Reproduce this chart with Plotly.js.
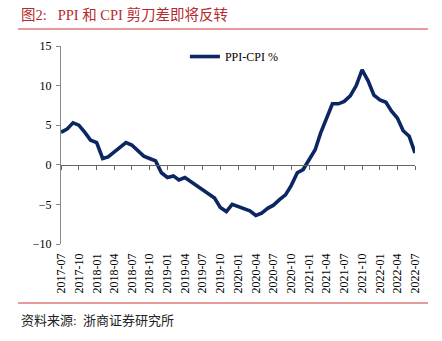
<!DOCTYPE html>
<html>
<head>
<meta charset="utf-8">
<script src="https://cdn.plot.ly/plotly-3.0.1.min.js"></script>
<style>
html,body{margin:0;padding:0;background:#fff;}
#chart{width:442px;height:341px;}
</style>
</head>
<body>
<div id="chart"></div>
<script>
const months = [
  "2017-07","2017-08","2017-09","2017-10","2017-11","2017-12",
  "2018-01","2018-02","2018-03","2018-04","2018-05","2018-06",
  "2018-07","2018-08","2018-09","2018-10","2018-11","2018-12",
  "2019-01","2019-02","2019-03","2019-04","2019-05","2019-06",
  "2019-07","2019-08","2019-09","2019-10","2019-11","2019-12",
  "2020-01","2020-02","2020-03","2020-04","2020-05","2020-06",
  "2020-07","2020-08","2020-09","2020-10","2020-11","2020-12",
  "2021-01","2021-02","2021-03","2021-04","2021-05","2021-06",
  "2021-07","2021-08","2021-09","2021-10","2021-11","2021-12",
  "2022-01","2022-02","2022-03","2022-04","2022-05","2022-06",
  "2022-07"
];
const ppiCpi = [
  4.1, 4.5, 5.3, 5.0, 4.1, 3.1,
  2.8, 0.8, 1.0, 1.6, 2.3, 2.8,
  2.5, 1.8, 1.1, 0.8, 0.5, -1.0,
  -1.6, -1.4, -1.9, -1.6, -2.1, -2.7,
  -3.1, -3.6, -4.2, -5.4, -5.9, -5.0,
  -5.3, -5.6, -5.8, -6.4, -6.1, -5.5,
  -5.1, -4.4, -3.8, -2.6, -1.0, -0.6,
  0.6, 1.9, 4.0, 5.9, 7.7, 7.7,
  8.0, 8.7, 10.0, 12.0, 10.6, 8.8,
  8.2, 7.9, 6.8, 5.9, 4.3, 3.6,
  1.5
];
const seriesName = "PPI-CPI %";
const titleText = "图2:&nbsp;&nbsp;&nbsp;PPI 和 CPI 剪刀差即将反转";
const sourceText = "资料来源:&nbsp;&nbsp;浙商证券研究所";
const yRange = [-10, 15];

const xDates = months.map(m => m + "-01");
const serif = "'Liberation Serif', 'Times New Roman', 'Noto Sans CJK SC', serif";
const cjk = "'Liberation Serif', 'Noto Sans CJK SC', serif";

const zeroPos = (0 - yRange[0]) / (yRange[1] - yRange[0]);

const traces = [
  {
    x: xDates, y: ppiCpi, type: "scatter", mode: "lines", name: seriesName,
    line: {color: "#0b2663", width: 3.6, shape: "linear"},
    xaxis: "x", yaxis: "y"
  },
  {
    x: xDates, y: ppiCpi, type: "scatter", mode: "lines", showlegend: false,
    line: {color: "rgba(0,0,0,0)", width: 0}, hoverinfo: "skip",
    xaxis: "x2", yaxis: "y"
  }
];

const xCommon = {
  type: "date",
  range: [xDates[0], xDates[xDates.length - 1]],
  tick0: xDates[0],
  dtick: "M3",
  showgrid: false,
  zeroline: false
};

const layout = {
  width: 442, height: 341,
  paper_bgcolor: "#fff", plot_bgcolor: "#fff",
  margin: {l: 61, r: 27, t: 46, b: 97},
  showlegend: true,
  legend: {
    x: 0.35, y: 1.02, xanchor: "left", yanchor: "top",
    font: {family: serif, size: 12, color: "#000"},
    bgcolor: "rgba(0,0,0,0)", itemwidth: 30, tracegroupgap: 0
  },
  xaxis: Object.assign({}, xCommon, {
    tickformat: "%Y-%m",
    tickangle: -90,
    ticks: "",
    showline: false,
    ticklabelstandoff: 6,
    tickfont: {family: serif, size: 12, color: "#000"}
  }),
  xaxis2: Object.assign({}, xCommon, {
    overlaying: "x",
    anchor: "free",
    position: zeroPos,
    side: "bottom",
    showline: true, linecolor: "#666", linewidth: 1,
    ticks: "outside", ticklen: 4, tickcolor: "#666", tickwidth: 1,
    showticklabels: false
  }),
  yaxis: {
    range: yRange, dtick: 5, showgrid: false, zeroline: false,
    showline: true, linecolor: "#888", linewidth: 1,
    ticks: "outside", ticklen: 4, tickcolor: "#888",
    tickfont: {family: serif, size: 12, color: "#000"},
    ticklabelstandoff: 2
  },
  shapes: [
    {type: "line", xref: "paper", yref: "paper", x0: -43/354, x1: 367/354,
     y0: 1 + 17/198, y1: 1 + 17/198, line: {color: "#e07a7a", width: 1.5}},
    {type: "line", xref: "paper", yref: "paper", x0: -43/354, x1: 367/354,
     y0: -59/198, y1: -59/198, line: {color: "#e07a7a", width: 1.5}}
  ],
  annotations: [
    {text: titleText, xref: "paper", yref: "paper", x: -42/354, y: 1 + 32/198,
     xanchor: "left", yanchor: "middle", showarrow: false,
     font: {family: cjk, size: 14.5, color: "#b52a2e"}},
    {text: sourceText, xref: "paper", yref: "paper", x: -42/354, y: -76/198,
     xanchor: "left", yanchor: "middle", showarrow: false,
     font: {family: cjk, size: 13, color: "#222"}}
  ]
};

Plotly.newPlot("chart", traces, layout, {displayModeBar: false, staticPlot: true});
</script>
</body>
</html>
